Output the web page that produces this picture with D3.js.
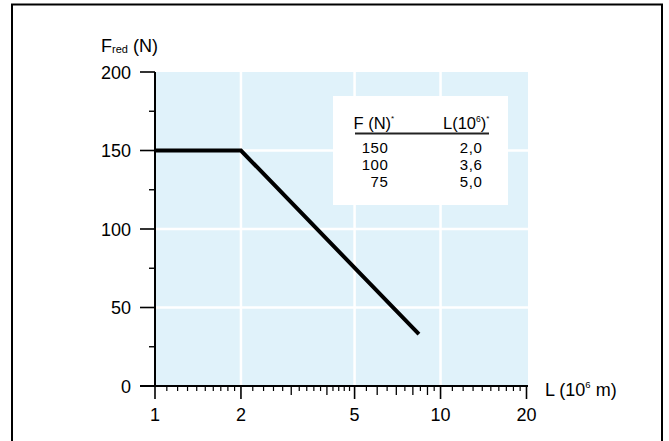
<!DOCTYPE html>
<html><head><meta charset="utf-8">
<script src="https://cdn.jsdelivr.net/npm/d3@7"></script>
<style>
html,body{margin:0;padding:0;background:#fff;}
svg{display:block;}
text{font-family:"Liberation Sans",Arial,Helvetica,sans-serif;fill:#000;}
</style></head>
<body><svg id="c" width="669" height="441"></svg>
<script>
// ---- data ----
const xMajorTicks = [1, 2, 5, 10, 20];
const xMediumTicks = [3, 4, 6, 7, 8, 9];
const xGridValues = [2, 5, 10];
const yTicks = [0, 50, 100, 150, 200];
const yMinorTicks = [25, 75, 125, 175];
const yGridValues = [50, 100, 150];
const curveL = [1, 2, 8.4];
const curveF = [150, 150, 33];
const tableF = ["150", "100", "75"];
const tableL = ["2,0", "3,6", "5,0"];

// minor ticks of the log axis (steps per segment)
const xMinorTicks = [].concat(
  d3.range(1.1, 2.0, 0.1),
  d3.range(2.2, 5.0, 0.2),
  d3.range(5.5, 10.0, 0.5),
  d3.range(11, 20, 1)
).filter(v => !xMediumTicks.some(m => Math.abs(m - v) < 1e-6));

const svg = d3.select("#c");
const x = d3.scaleLog().domain([1, 20]).range([155, 526.5]);
const y = d3.scaleLinear().domain([0, 200]).range([386, 72]);

// outer frame
svg.append("rect").attr("x", 12).attr("y", 4.5).attr("width", 650).attr("height", 450)
  .attr("fill", "none").attr("stroke", "#000").attr("stroke-width", 2);

// plot background
svg.append("rect").attr("x", x(1)).attr("y", y(200))
  .attr("width", 528 - x(1)).attr("height", y(0) - y(200)).attr("fill", "#e0f2fa");

// grid
svg.selectAll(".gx").data(xGridValues).enter().append("line")
  .attr("x1", d => x(d)).attr("x2", d => x(d)).attr("y1", y(200)).attr("y2", y(0))
  .attr("stroke", "#fff").attr("stroke-width", 2.5);
svg.selectAll(".gy").data(yGridValues).enter().append("line")
  .attr("x1", x(1)).attr("x2", 528).attr("y1", d => y(d)).attr("y2", d => y(d))
  .attr("stroke", "#fff").attr("stroke-width", 2.5);

// legend table
const lg = svg.append("g");
lg.append("rect").attr("x", 333).attr("y", 96).attr("width", 175).attr("height", 109).attr("fill", "#fff");
const h1 = lg.append("text").attr("x", 353.5).attr("y", 129).attr("font-size", 16.5);
h1.append("tspan").text("F (N)");
h1.append("tspan").attr("font-size", 8).attr("dy", -8).text("*");
const h2 = lg.append("text").attr("x", 443).attr("y", 129).attr("font-size", 16.5);
h2.append("tspan").text("L(10");
h2.append("tspan").attr("font-size", 8.5).attr("dy", -7).text("6");
h2.append("tspan").attr("dy", 7).text(")");
h2.append("tspan").attr("font-size", 8).attr("dy", -8).text("*");
lg.append("line").attr("x1", 355).attr("x2", 489).attr("y1", 133.5).attr("y2", 133.5)
  .attr("stroke", "#222").attr("stroke-width", 1.8);
const rowY = [152.5, 169.5, 186.5];
lg.selectAll(".tf").data(tableF).enter().append("text")
  .attr("x", 388.5).attr("y", (d, i) => rowY[i]).attr("text-anchor", "end")
  .attr("font-size", 15).attr("letter-spacing", 0.6).text(d => d);
lg.selectAll(".tl").data(tableL).enter().append("text")
  .attr("x", 482.5).attr("y", (d, i) => rowY[i]).attr("text-anchor", "end")
  .attr("font-size", 15).attr("letter-spacing", 0.6).text(d => d);

// curve
const pts = curveL.map((l, i) => [l, curveF[i]]);
svg.append("path").datum(pts)
  .attr("d", d3.line().x(d => x(d[0])).y(d => y(d[1])))
  .attr("fill", "none").attr("stroke", "#000").attr("stroke-width", 4)
  .attr("stroke-linejoin", "miter").attr("stroke-linecap", "butt");

// axes lines
svg.append("line").attr("x1", x(1)).attr("x2", x(1)).attr("y1", y(200)).attr("y2", y(0))
  .attr("stroke", "#000").attr("stroke-width", 2);
svg.append("line").attr("x1", 140).attr("x2", 528).attr("y1", y(0)).attr("y2", y(0))
  .attr("stroke", "#000").attr("stroke-width", 2);

// y ticks
svg.selectAll(".yt").data(yTicks).enter().append("line")
  .attr("x1", 140).attr("x2", x(1)).attr("y1", d => y(d)).attr("y2", d => y(d))
  .attr("stroke", "#000").attr("stroke-width", 1.6);
svg.selectAll(".ym").data(yMinorTicks).enter().append("line")
  .attr("x1", 149).attr("x2", x(1)).attr("y1", d => y(d)).attr("y2", d => y(d))
  .attr("stroke", "#000").attr("stroke-width", 1.4);
svg.selectAll(".yl").data(yTicks).enter().append("text")
  .attr("x", 131).attr("y", d => y(d) + 6.5).attr("text-anchor", "end")
  .attr("font-size", 18).text(d => d);

// x ticks
svg.selectAll(".xt").data(xMajorTicks).enter().append("line")
  .attr("x1", d => x(d)).attr("x2", d => x(d)).attr("y1", y(0)).attr("y2", y(0) + 13)
  .attr("stroke", "#000").attr("stroke-width", 1.6);
svg.selectAll(".xmd").data(xMediumTicks).enter().append("line")
  .attr("x1", d => x(d)).attr("x2", d => x(d)).attr("y1", y(0)).attr("y2", y(0) + 9)
  .attr("stroke", "#000").attr("stroke-width", 1.3);
svg.selectAll(".xmn").data(xMinorTicks).enter().append("line")
  .attr("x1", d => x(d)).attr("x2", d => x(d)).attr("y1", y(0)).attr("y2", y(0) + 5)
  .attr("stroke", "#000").attr("stroke-width", 1.2);
svg.selectAll(".xl").data(xMajorTicks).enter().append("text")
  .attr("x", d => x(d)).attr("y", 421).attr("text-anchor", "middle")
  .attr("font-size", 18).text(d => d);

// axis titles
const yt = svg.append("text").attr("x", 101).attr("y", 52).attr("font-size", 18);
yt.append("tspan").text("F");
yt.append("tspan").attr("font-size", 11).attr("dy", 1).text("red");
yt.append("tspan").attr("dy", -1).text(" (N)");
const xt = svg.append("text").attr("x", 545).attr("y", 396).attr("font-size", 18);
xt.append("tspan").text("L (10");
xt.append("tspan").attr("font-size", 9.5).attr("dy", -8).text("6");
xt.append("tspan").attr("dy", 8).text(" m)");
</script></body></html>
